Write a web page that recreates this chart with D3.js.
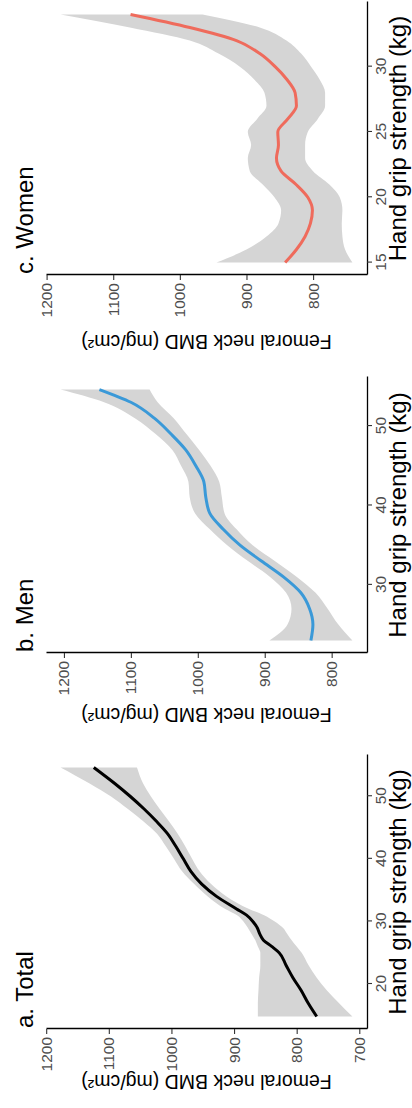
<!DOCTYPE html>
<html>
<head>
<meta charset="utf-8">
<script src="https://cdn.jsdelivr.net/npm/d3@7"></script>
<style>
  body { margin: 0; background: #fff; }
  text { font-family: "Liberation Sans", Arial, sans-serif; }
</style>
</head>
<body>
<div id="chart"></div>
<script>
// the figure is laid out flat (1108 x 412) and then turned a quarter turn
var width = 412, height = 1108

var titles = ['a. Total', 'b. Men', 'c. Women']
var bmdTicks = [700, 800, 900, 1000, 1100, 1200]

// a. Total
var totalGrip = [14.8, 17, 19, 21, 23, 25, 26, 27, 28, 29, 30, 31, 32, 34, 36, 38, 40, 42, 44, 46, 48, 50, 52, 54.6]
var totalFit = [768, 782, 793, 806, 817, 828, 840, 853, 859, 863, 870, 880, 896, 928, 952, 969, 981, 993, 1006, 1024, 1044, 1066, 1090, 1124]
var totalLower = [711, 733, 752, 768, 781, 792, 800, 808, 815, 822, 835, 852, 876, 912, 937, 955, 967, 978, 990, 1004, 1019, 1033, 1045, 1055]
var totalUpper = [862, 862, 861, 860, 858, 858, 862, 866, 872, 878, 885, 895, 914, 942, 964, 983, 996, 1009, 1023, 1045, 1070, 1097, 1130, 1177]
var totalGripTicks = [20, 30, 40, 50]

// b. Men
var menGrip = [23, 25, 27, 29, 31, 33, 35, 37, 39, 41, 43, 45, 47, 49, 51, 53, 54.6]
var menFit = [831, 828, 833, 846, 872, 905, 937, 962, 982, 988, 991, 1003, 1018, 1040, 1065, 1100, 1147]
var menLower = [769, 790, 806, 824, 852, 885, 918, 942, 960, 964, 968, 981, 998, 1017, 1036, 1060, 1072]
var menUpper = [893, 866, 860, 868, 892, 925, 956, 982, 1004, 1012, 1014, 1025, 1038, 1063, 1094, 1140, 1205]
var menGripTicks = [30, 40, 50]

// c. Women
var womenGrip = [15, 16, 17, 18, 19, 20, 21, 22, 23, 24, 25, 26, 27, 28, 29, 30, 31, 32, 33, 34]
var womenFit = [842, 825, 812, 804, 801, 808, 826, 848, 855, 852, 853, 838, 825, 827, 839, 857, 880, 915, 985, 1074]
var womenLower = [741, 752, 756, 757, 756, 760, 776, 800, 812, 812, 808, 793, 782, 782, 790, 803, 818, 840, 880, 966]
var womenUpper = [945, 900, 870, 852, 848, 858, 876, 895, 898, 893, 898, 884, 870, 873, 888, 910, 942, 985, 1075, 1179]
var womenGripTicks = [15, 20, 25, 30]

var panels = [
  { grip: totalGrip, fit: totalFit, lower: totalLower, upper: totalUpper, ticks: totalGripTicks, color: '#000000', left: 79, right: 353, labelGap: 46 },
  { grip: menGrip, fit: menFit, lower: menLower, upper: menUpper, ticks: menGripTicks, color: '#3a99d8', left: 455, right: 731, labelGap: 55 },
  { grip: womenGrip, fit: womenFit, lower: womenLower, upper: womenUpper, ticks: womenGripTicks, color: '#ef6b5c', left: 833, right: 1106, labelGap: 60 }
]
var panelTop = 46, panelBottom = 367

var svg = d3.select("#chart")
  .append("svg")
  .attr("width", width)
  .attr("height", height)

var fig = svg.append("g")
  .attr("transform", `translate(0,${height}) rotate(-90)`)

// ggplot style 5% padding on both ends
function padded(values) {
  var ext = d3.extent(values)
  var pad = (ext[1] - ext[0]) * 0.05
  return [ext[0] - pad, ext[1] + pad]
}

panels.forEach(function(p, i) {
  var rows = p.grip.map((g, j) => ({ grip: g, fit: p.fit[j], lower: p.lower[j], upper: p.upper[j] }))

  var xScale = d3.scaleLinear()
    .domain(padded(p.grip))
    .range([p.left, p.right])

  var yScale = d3.scaleLinear()
    .domain(padded(p.lower.concat(p.upper)))
    .range([panelBottom, panelTop])

  var g = fig.append("g").attr("class", "panel")

  // confidence band
  g.append("path")
    .datum(rows)
    .attr("fill", "#d5d5d5")
    .attr("d", d3.area()
      .x(d => xScale(d.grip))
      .y0(d => yScale(d.lower))
      .y1(d => yScale(d.upper))
      .curve(d3.curveMonotoneX))

  // smooth line
  g.append("path")
    .datum(rows)
    .attr("fill", "none")
    .attr("stroke", p.color)
    .attr("stroke-width", 3)
    .attr("d", d3.line()
      .x(d => xScale(d.grip))
      .y(d => yScale(d.fit))
      .curve(d3.curveMonotoneX))

  var yTicks = bmdTicks.filter(t => t >= yScale.domain()[0] && t <= yScale.domain()[1])

  // Render Y axis
  g.append("g")
    .attr("transform", `translate(${p.left},0)`)
    .attr("class", "y-axis")
    .call(d3.axisLeft(yScale).tickValues(yTicks).tickFormat(d3.format('d'))
      .tickSize(5).tickSizeOuter(0).tickPadding(3))

  // Render X axis
  g.append("g")
    .attr("transform", `translate(0,${panelBottom})`)
    .attr("class", "x-axis")
    .call(d3.axisBottom(xScale).tickValues(p.ticks).tickFormat(d3.format('d'))
      .tickSize(5).tickSizeOuter(0).tickPadding(3))

  g.selectAll(".domain")
    .attr("stroke", "#000")
    .attr("stroke-width", 1.3)
  g.selectAll(".tick line")
    .attr("stroke", "#333")
    .attr("stroke-width", 1.1)
  g.selectAll(".tick text")
    .attr("font-size", "15.5px")
    .attr("font-family", "Liberation Sans, Arial, sans-serif")
    .attr("fill", "#4d4d4d")

  // panel title
  g.append("text")
    .attr("x", p.left + 1)
    .attr("y", 33)
    .attr("font-size", "24px")
    .attr("fill", "#000")
    .text(titles[i])

  // axis titles
  g.append("text")
    .attr("x", (p.left + p.right) / 2)
    .attr("y", 406)
    .attr("text-anchor", "middle")
    .attr("font-size", "24px")
    .attr("fill", "#000")
    .text("Hand grip strength (kg)")

  g.append("text")
    .attr("transform", `translate(${p.left - p.labelGap},${(panelTop + panelBottom) / 2}) rotate(-90)`)
    .attr("text-anchor", "middle")
    .attr("font-size", "19.5px")
    .attr("fill", "#000")
    .text("Femoral neck BMD (mg/cm²)")
})
</script>
</body>
</html>
